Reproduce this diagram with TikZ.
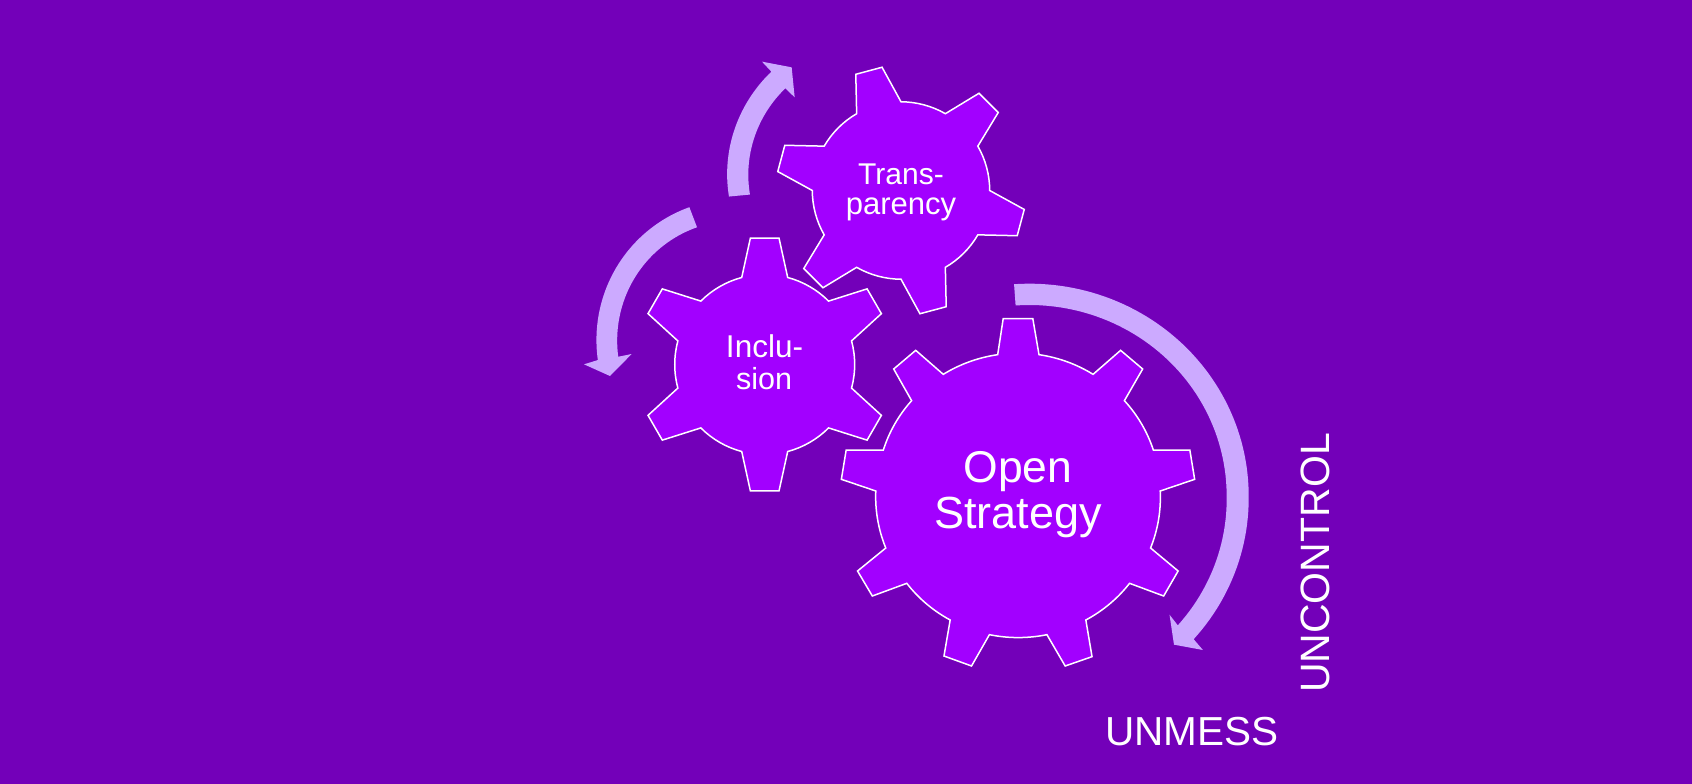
\documentclass[tikz,border=0pt]{standalone}
\usepackage{fontspec}
\setmainfont{Liberation Sans}
\definecolor{bgpurple}{HTML}{7300B9}
\definecolor{gearpurple}{HTML}{A200FF}
\definecolor{arrowlilac}{HTML}{CCAAFF}
\tikzset{
  x=1pt,y=-1pt,
  gearshape/.style={draw=white,fill=gearpurple,line width=1.5pt,line join=miter},
  bandarrow/.style={fill=arrowlilac,draw=none},
  labeltext/.style={text=white,anchor=base,inner sep=0pt,outer sep=0pt},
  croppts/.style={shift={(#1)},scale=1/3},
  wideCrop/.style={shift={(820,270)},xscale=1/2.904,yscale=1/3},
  arcb/.style={bend left=#1,looseness=0.86},
}
% small gear: centre x, centre y, rotation, R, r, base half-angle, tip half-angle
\newcommand{\smallgear}[7]{%
  \begin{scope}[shift={(#1,#2)}]
  \pgfmathsetmacro{\bendang}{30-#6}
  \draw[gearshape] ({#4*sin(#3-#6)},{-#4*cos(#3-#6)})
    foreach \a in {0,60,...,300} {
      -- ({#5*sin(#3+\a-#7)},{-#5*cos(#3+\a-#7)})
      -- ({#5*sin(#3+\a+#7)},{-#5*cos(#3+\a+#7)})
      -- ({#4*sin(#3+\a+#6)},{-#4*cos(#3+\a+#6)})
      to[arcb=\bendang] ({#4*sin(#3+\a+60-#6)},{-#4*cos(#3+\a+60-#6)})
    } -- cycle;
  \end{scope}}
\begin{document}
\begin{tikzpicture}
\useasboundingbox (0,0) rectangle (1692,784);
\fill[bgpurple] (0,0) rectangle (1692,784);

% arrows
\begin{scope}[croppts={560,40}]
  \fill[bandarrow] plot[domain=-95.4:-40,samples=40] ({916+(410.9+(\x+95.4)*0.5)*sin(\x)},{431-(410.9+(\x+95.4)*0.5)*cos(\x)})
    -- (606,65) -- (695,82) -- (704,172)
    -- plot[domain=-40:-95.4,samples=40] ({916+(347.6+(\x+95.4)*0.466)*sin(\x)},{431-(347.6+(\x+95.4)*0.466)*cos(\x)}) -- cycle;
\end{scope}
\begin{scope}[croppts={570,190}]
  \fill[bandarrow] plot[domain=-20.9:-99.2,samples=40] ({507+(417.5+(-20.9-\x)*0.147)*sin(\x)},{441.6-(417.5+(-20.9-\x)*0.147)*cos(\x)})
    -- (42,523) -- (120,558) -- (185,492)
    -- plot[domain=-99.2:-20.9,samples=40] ({507+(353+(-20.9-\x)*0.179)*sin(\x)},{441.6-(353+(-20.9-\x)*0.179)*cos(\x)}) -- cycle;
\end{scope}
\begin{scope}[wideCrop]
  \fill[bandarrow] plot[domain=-4:132,samples=80] ({608+(637+max(0,\x-90)*0.12)*sin(\x)},{678-(637+max(0,\x-90)*0.12)*cos(\x)})
    -- (1112,1140) -- (1028,1124) -- (1015,1034)
    -- plot[domain=132:-4,samples=80] ({608+(573+max(0,\x-90)*0.167)*sin(\x)},{678-(573+max(0,\x-90)*0.167)*cos(\x)}) -- cycle;
\end{scope}

% gears
\smallgear{901}{190.5}{-15}{88.7}{124.7}{15}{6.26}
\smallgear{764.7}{364.5}{0}{90}{127.3}{14.8}{6.45}
\begin{scope}[wideCrop]
\draw[gearshape]
  (516,254) -- (532,146) -- (618,146) -- (636,254)
  to[arcb=12] (793,313) -- (873,241) -- (937,297) -- (884,392)
  to[arcb=12] (968,540) -- (1074,540) -- (1088,628) -- (988,663)
  to[arcb=12] (960,834) -- (1040,903) -- (998,978) -- (899,940)
  to[arcb=12] (772,1050) -- (790,1160) -- (712,1188) -- (659,1094)
  to[arcb=12] (492,1094) -- (440,1188) -- (360,1158) -- (378,1050)
  to[arcb=12] (252,940) -- (152,978) -- (109,903) -- (191,834)
  to[arcb=12] (162,663) -- (62,628) -- (76,540) -- (184,540)
  to[arcb=12] (266,392) -- (214,297) -- (278,241) -- (358,313)
  to[arcb=12] (516,254) -- cycle;
\end{scope}

% labels
\node[labeltext,font=\fontsize{30}{30}\selectfont] (trans1) at (901,184) {Trans-};
\node[labeltext,font=\fontsize{31}{31}\selectfont] (trans2) at (901,214.3) {parency};
\node[labeltext,font=\fontsize{31.5}{31}\selectfont] (incl1) at (764.5,357.7) {Inclu-};
\node[labeltext,font=\fontsize{30.5}{30}\selectfont] (incl2) at (764,389) {sion};
\node[labeltext,font=\fontsize{44.5}{44}\selectfont] (open1) at (1018,482) {Open};
\node[labeltext,font=\fontsize{45}{45}\selectfont] (open2) at (1018,528.2) {Strategy};
\node[labeltext,font=\fontsize{40.5}{41}\selectfont] (unmess) at (1192,745) {UNMESS};
\node[labeltext,font=\fontsize{41}{41}\selectfont,rotate=90] (uncontrol) at (1329,563) {UNCONTROL};
\end{tikzpicture}
\end{document}
